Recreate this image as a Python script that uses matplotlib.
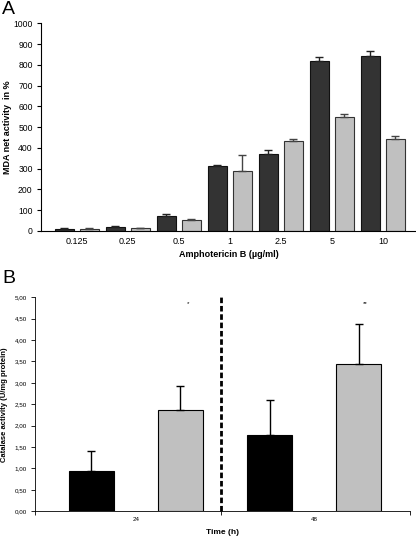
import matplotlib
matplotlib.use("Agg")
import matplotlib.pyplot as plt
import numpy as np

plt.rcParams['font.family'] = ['Liberation Sans', 'DejaVu Sans']

# Panel A data
conc_labels = ["0.125", "0.25", "0.5", "1", "2.5", "5", "10"]
mda_dark = [11, 18, 74, 314, 372, 819, 843]
mda_dark_err = [3, 5, 6, 3, 17, 17, 25]
mda_light = [10, 13, 53, 288, 433, 551, 444]
mda_light_err = [3, 2, 5, 77, 12, 11, 13]

# Panel B data
time_labels = ["24", "48"]
cat_black = [0.93, 1.78]
cat_black_err = [0.49, 0.81]
cat_gray = [2.37, 3.43]
cat_gray_err = [0.55, 0.94]
signif = ["*", "**"]

W, H = 416, 537
fig = plt.figure(figsize=(W / 100, H / 100), dpi=100)

# ---------- Panel A ----------
axA = fig.add_axes([41 / W, 1 - 231 / H, (416 - 41) / W, (231 - 23.3) / H])
x = np.arange(len(conc_labels))
bw = 0.37
off = 0.245
axA.bar(x - off, mda_dark, bw, color="#333333", edgecolor="#111111", linewidth=0.8,
        yerr=[np.zeros(len(x)), mda_dark_err], error_kw=dict(ecolor="#222222", elinewidth=1, capsize=3, capthick=1))
axA.bar(x + off, mda_light, bw, color="#c0c0c0", edgecolor="#333333", linewidth=0.8,
        yerr=[np.zeros(len(x)), mda_light_err], error_kw=dict(ecolor="#444444", elinewidth=1, capsize=3, capthick=1))
axA.set_xlim(-0.7, 6.65)
axA.set_ylim(0, 1000)
axA.set_yticks(np.arange(0, 1001, 100))
axA.tick_params(axis='y', labelsize=6.2, length=3, width=0.8, direction='out', pad=3)
axA.set_xticks(x)
axA.set_xticklabels(conc_labels)
axA.tick_params(axis='x', labelsize=6.5, length=0, pad=4)
for s in ["top", "right"]:
    axA.spines[s].set_visible(False)
axA.spines["left"].set_linewidth(0.8)
axA.spines["bottom"].set_linewidth(0.8)
axA.set_xlabel("Amphotericin B (µg/ml)", fontsize=6.5, fontweight="bold", labelpad=3)
axA.set_ylabel("MDA net activity  in %", fontsize=6.5, fontweight="bold")
axA.yaxis.set_label_coords(-0.077, 0.5)
fig.text(2 / W, 1 - 1 / H, "A", fontsize=14, va="top", ha="left")

# ---------- Panel B ----------
axB = fig.add_axes([35 / W, 1 - 511.3 / H, (410 - 35) / W, (511.3 - 297.3) / H])
xb = np.arange(len(time_labels))
bwb = 0.253
offb = 0.25
axB.bar(xb - offb, cat_black, bwb, color="#000000", edgecolor="#000000", linewidth=0.8,
        yerr=[np.zeros(len(xb)), cat_black_err], error_kw=dict(ecolor="#000000", elinewidth=1, capsize=3, capthick=1))
axB.bar(xb + offb, cat_gray, bwb, color="#c0c0c0", edgecolor="#000000", linewidth=0.8,
        yerr=[np.zeros(len(xb)), cat_gray_err], error_kw=dict(ecolor="#000000", elinewidth=1, capsize=3, capthick=1))
xl, xr = -0.567, 1.539
axB.set_xlim(xl, xr)
axB.set_ylim(0, 5)
axB.set_yticks(np.arange(0, 5.01, 0.5))
axB.set_yticklabels([f"{v:.2f}".replace(".", ",") for v in np.arange(0, 5.01, 0.5)])
axB.tick_params(axis='y', labelsize=4.5, length=3, width=0.6, direction='out', pad=3)
axB.set_xticks(xb)
axB.set_xticklabels(time_labels)
axB.tick_params(axis='x', which='major', labelsize=4.5, length=0, pad=4)
axB.set_xticks([xl, 0.48, xr], minor=True)
axB.tick_params(axis='x', which='minor', length=3, width=0.6, direction='out')
for s in ["top", "right"]:
    axB.spines[s].set_visible(False)
axB.spines["left"].set_linewidth(0.6)
axB.spines["bottom"].set_linewidth(0.6)
axB.plot([0.48, 0.48], [0, 5.05], color="black", linestyle=(0, (2, 1)), linewidth=2, clip_on=False)
for i, s in enumerate(signif):
    axB.text(xb[i] + offb + 0.04, 4.85, s, fontsize=4.5, ha="center", va="center")
axB.set_xlabel("Time (h)", fontsize=6, fontweight="bold", labelpad=5)
axB.set_ylabel("Catalase activity (U/mg protein)", fontsize=5.5, fontweight="bold")
axB.yaxis.set_label_coords(-0.072, 0.5)
fig.text(2 / W, 1 - 270 / H, "B", fontsize=14, va="top", ha="left")

fig.savefig("out.png", dpi=100)
